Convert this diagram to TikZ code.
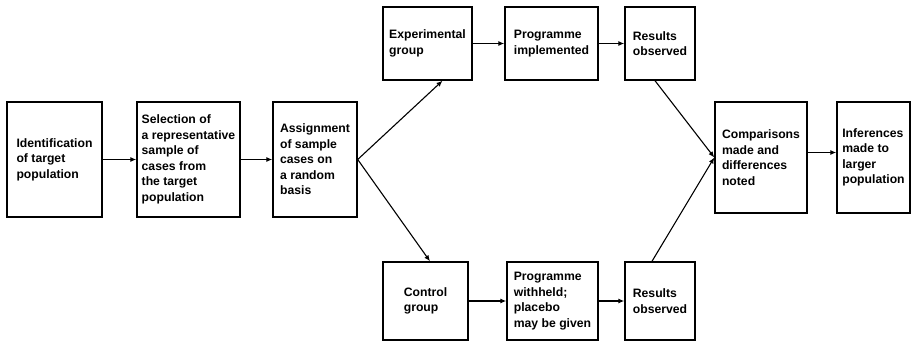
\documentclass[tikz,border=0pt]{standalone}
\usepackage{fontspec}
\setmainfont{Liberation Sans}
\usetikzlibrary{arrows.meta}
\begin{document}
\begin{tikzpicture}[x=1pt,y=-1pt,
  box/.style={draw, line width=1.4pt, align=left, inner sep=0pt,
    font=\fontsize{12.2}{15.5}\selectfont\bfseries},
  conn/.style={line width=1.1pt, -{Latex[length=6pt,width=5pt]}}]
\useasboundingbox (0,0) rectangle (916,342);
\node[box, minimum width=95pt, minimum height=115pt] (id) at (54.5,159.5) {Identification\\of target\\population};
\node[box, minimum width=103pt, minimum height=115pt] (sel) at (188.5,159.5) {Selection of\\a representative\\sample of\\cases from\\the target\\population};
\node[box, minimum width=84pt, minimum height=115pt] (asg) at (315,159.5) {Assignment\\of sample\\cases on\\a random\\basis};
\node[box, minimum width=89pt, minimum height=73pt] (exp) at (427.5,43.5) {Experimental\\group};
\node[box, minimum width=93pt, minimum height=73pt] (pimp) at (551.5,43.5) {Programme\\implemented};
\node[box, minimum width=70pt, minimum height=73pt] (rtop) at (660,43.5) {Results\\observed};
\node[box, minimum width=85pt, minimum height=78pt] (ctl) at (425.5,301) {Control\\group};
\node[box, minimum width=91pt, minimum height=78pt] (pwh) at (552.5,301) {Programme\\withheld;\\placebo\\may be given};
\node[box, minimum width=70pt, minimum height=78pt] (rbot) at (660,301) {Results\\observed};
\node[box, minimum width=92pt, minimum height=111pt] (cmp) at (761,157.5) {Comparisons\\made and\\differences\\noted};
\node[box, minimum width=73pt, minimum height=111pt] (inf) at (873.5,157.5) {Inferences\\made to\\larger\\population};
\draw[conn] (id.east) -- (sel.west);
\draw[conn] (sel.east) -- (asg.west);
\draw[conn] (asg.east) -- ([xshift=15pt]exp.south);
\draw[conn] (asg.east) -- ([xshift=4.5pt]ctl.north);
\draw[conn] (exp.east) -- (pimp.west);
\draw[conn] (pimp.east) -- (rtop.west);
\draw[conn] (ctl.east) -- (pwh.west);
\draw[conn] (pwh.east) -- (rbot.west);
\draw[conn] ([xshift=-5pt]rtop.south) -- (cmp.west);
\draw[conn] ([xshift=-8pt]rbot.north) -- (cmp.west);
\draw[conn] ([yshift=5pt]cmp.east) -- ([yshift=5pt]inf.west);
\end{tikzpicture}
\end{document}
